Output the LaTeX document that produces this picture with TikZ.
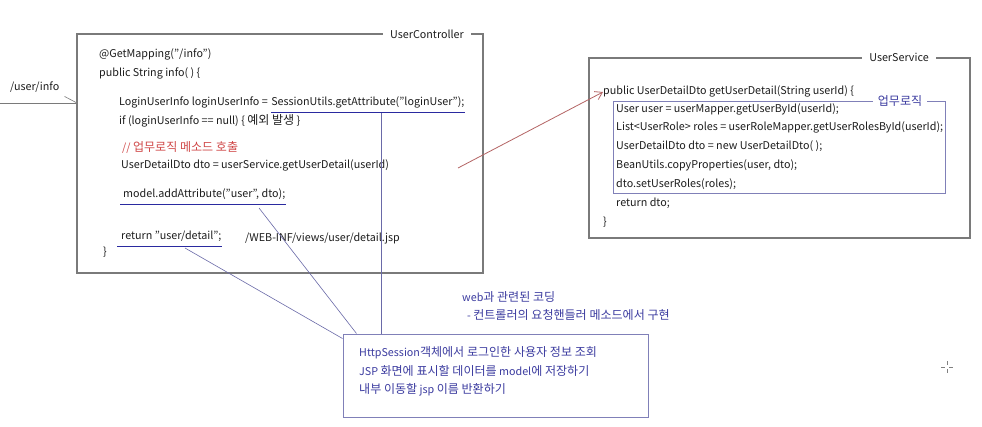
\documentclass[tikz,border=0pt]{standalone}
\usepackage{fontspec}
\setmainfont{Noto Sans CJK KR}
\newfontfamily\kr{Noto Sans CJK KR}[Scale=1.12]
\usetikzlibrary{arrows.meta}
\definecolor{txt}{HTML}{1E1E1E}
\definecolor{boxgray}{HTML}{7A7A7A}
\definecolor{redc}{HTML}{D04848}
\definecolor{bluet}{HTML}{3C3CA0}
\definecolor{ulblue}{HTML}{2A2AA0}
\definecolor{callc}{HTML}{6A6AA8}
\definecolor{innerc}{HTML}{8080B8}
\definecolor{arrowred}{HTML}{B46464}
\begin{document}
\begin{tikzpicture}[x=1pt,y=-1pt,
  code/.style={anchor=west,inner sep=0pt,text height=8pt,text depth=2.5pt,font=\fontsize{10.75}{13}\selectfont,text=txt},
  frame/.style={draw=boxgray,line width=1.2pt,inner sep=0pt},
  boxtitle/.style={fill=white,inner xsep=7pt,inner ysep=1pt,font=\fontsize{10.75}{13}\selectfont,text=txt},
  ul/.style={draw=ulblue,line width=1.3pt},
  call/.style={draw=callc,line width=0.6pt},
  notetext/.style={code,text=bluet}
]
\useasboundingbox[fill=white] (0,0) rectangle (982,426);

% Controller box
\node[frame,minimum width=406pt,minimum height=239pt] (ctrl) at (280,153.5) {};
\node[boxtitle] (ctrlT) at (427,34) {UserController};

\node[code] (c1) at (99,55) {@GetMapping("/info")};
\node[code] (c2) at (99,74) {public String info( ) \{};
\node[code] (c3a) at (119,103) {LoginUserInfo loginUserInfo =\kern0.28em};
\node[code,anchor=base west] (c3b) at (c3a.base east) {SessionUtils.getAttribute("loginUser");};
\node[code] (c4) at (119,122) {if (loginUserInfo == null) \{ {\kr 예외 발생} \}};
\node[code,text=redc] (c5) at (122,149) {// {\kr 업무로직 메소드 호출}};
\node[code] (c6) at (121,166) {UserDetailDto dto = userService.getUserDetail(userId)};
\node[code] (c7) at (123,195) {model.addAttribute("user", dto);};
\node[code] (c8) at (121,237) {return "user/detail";};
\node[code] (c9) at (245,239) {/WEB-INF/views/user/detail.jsp};
\node[code] (c10) at (103,253) {\}};

\draw[ul] ([yshift=-4pt]c3b.south west) -- ([yshift=-4pt]c3b.south east);
\draw[ul] ([xshift=-3pt,yshift=-4pt]c7.south west) -- ([yshift=-4pt]c7.south east);
\draw[ul] ([xshift=-4pt,yshift=-4pt]c8.south west) -- ([yshift=-4pt]c8.south east);

% /user/info
\node[code] (uri) at (10,88) {/user/info};
\coordinate (u0) at (0,103);
\draw[boxgray,line width=0.9pt] (u0) -- (u0 -| ctrl.west);
\draw[boxgray,line width=0.6pt] (uri.south east) ++(5,3) -- (77,103);

% Service box
\node[frame,minimum width=381pt,minimum height=180pt] (svc) at (779.5,148) {};
\node[boxtitle] (svcT) at (899,57) {UserService};
\node[code] (pub) at (603,92) {public UserDetailDto getUserDetail(String userId) \{};
\node[draw=innerc,line width=1pt,inner sep=0pt,minimum width=332pt,minimum height=92pt] (biz) at (779,147) {};
\node[boxtitle,text=bluet,inner xsep=5pt,font=\kr\fontsize{10.75}{13}\selectfont] (bizT) at (900,101) {업무로직};
\node[code] (s1) at (616,110) {User user = userMapper.getUserById(userId);};
\node[code] (s2) at (616,128) {List<UserRole> roles = userRoleMapper.getUserRolesById(userId);};
\node[code] (s3) at (616,147) {UserDetailDto dto = new UserDetailDto( );};
\node[code] (s4) at (616,166) {BeanUtils.copyProperties(user, dto);};
\node[code] (s5) at (616,185) {dto.setUserRoles(roles);};
\node[code] (s6) at (616,204) {return dto;};
\node[code] (s7) at (603,223) {\}};

% red arrow
\coordinate (r0) at (458,168);
\draw[arrowred,line width=0.8pt,-{Straight Barb[length=7pt,width=9pt]}] (r0) -- (pub.west);

% note box
\node[draw=innerc,line width=1pt,inner sep=0pt,minimum width=305pt,minimum height=83pt] (note) at (495.5,375.5) {};
\node[notetext] (n1) at (359,354) {HttpSession{\kr 객체에서 로그인한 사용자 정보 조회}};
\node[notetext] (n2) at (359,373) {JSP {\kr 화면에 표시할 데이터를} model{\kr 에 저장하기}};
\node[notetext] (n3) at (359,391) {{\kr 내부 이동할} jsp {\kr 이름 반환하기}};

\node[notetext] (w1) at (462,299) {web{\kr 과 관련된 코딩}};
\node[notetext] (w2) at (467,317) {- {\kr 컨트롤러의 요청핸들러 메소드에서 구현}};

% callout lines
\coordinate (k1) at (381,113);
\coordinate (k2) at (259,208);
\coordinate (k3) at (185,248);
\draw[call] (k1) -- (k1 |- note.north);
\draw[call] (k2) -- ([xshift=14pt]note.north west);
\draw[call] (k3) -- ([yshift=-5pt]note.north west);

% cursor crosshair
\draw[gray,line width=0.8pt] (941,367) -- (945,367) (949,367) -- (953,367) (947,361) -- (947,365) (947,369) -- (947,373);
\end{tikzpicture}
\end{document}
